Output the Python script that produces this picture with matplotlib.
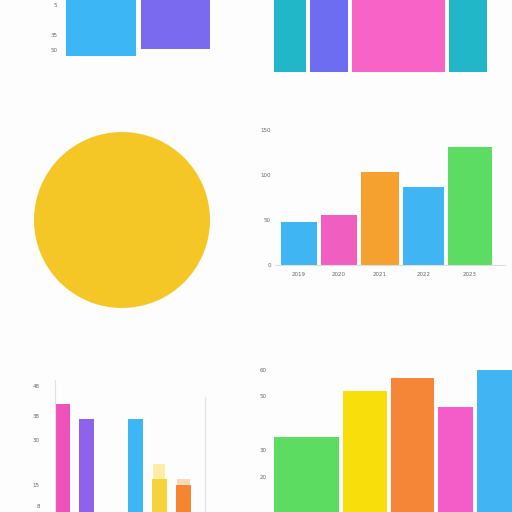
import matplotlib
matplotlib.use("Agg")
import matplotlib.pyplot as plt
import numpy as np

W = H = 512

# --- data -----------------------------------------------------------------
# top-left: two bars hanging from the top edge
A_vals = [56, 49]
A_colors = ["#3DB6F5", "#7A6AF0"]
A_ticks = [5, 35, 50]

# top-right: four full-height bars of different widths
B_vals = [100, 100, 100, 100]
B_colors = ["#22B6C9", "#6D6DF1", "#F763C6", "#22B6C9"]

# middle-left: single-slice pie
C_vals = [1]
C_colors = ["#F4C726"]

# middle-right: five bars
D_vals = [48, 56, 103, 87, 131]
D_colors = ["#3FB5F4", "#F05EC0", "#F4A130", "#3FB5F4", "#5CDC62"]
D_labels = ["2019", "2020", "2021", "2022", "2023"]
D_ticks = [0, 50, 100, 150]

# bottom-left: five bars, one empty slot, small light caps
E_pos = [0, 1, 3, 4, 5]
E_vals = [42, 37, 37, 17, 15]
E_caps = [0, 0, 0, 5, 2]
E_colors = ["#EE52BA", "#8C63EA", "#3DB6F3", "#F6D33C", "#F5862F"]
E_cap_colors = ["#FFFFFF", "#FFFFFF", "#FFFFFF", "#FCEDA6", "#FBD9B8"]
E_ticks = [8, 15, 30, 38, 48]

# bottom-right: five bars of different widths
F_vals = [35, 52, 57, 46, 60]
F_colors = ["#5CDC60", "#F8DF0C", "#F58637", "#F45DC8", "#41B5F3"]
F_ticks = [20, 30, 50, 60]

TICK_KW = dict(labelsize=4, colors="#666666", length=0)


def px_axes(fig, left, top, right, bottom):
    """add axes from a pixel box (origin top-left)"""
    return fig.add_axes([left / W, 1 - bottom / H, (right - left) / W, (bottom - top) / H])


def lefts_from_widths(widths, gap):
    return np.concatenate([[0], np.cumsum(np.array(widths[:-1]) + gap)])


def clean(ax):
    for s in ax.spines.values():
        s.set_visible(False)
    ax.set_facecolor("none")


fig = plt.figure(figsize=(W / 100, H / 100), dpi=100)
fig.patch.set_facecolor("#FDFDFD")

# top-left
ax = px_axes(fig, 60, 0, 215, 60)
clean(ax)
ax.bar([0, 1], A_vals, width=0.93, color=A_colors)
ax.set_ylim(60, 0)
ax.set_xlim(-0.55, 1.53)
ax.set_xticks([])
ax.set_yticks(A_ticks)
ax.tick_params(axis="y", pad=2, **TICK_KW)

# top-right
ax = px_axes(fig, 268, 0, 495, 72)
clean(ax)
B_w = [32, 38, 93, 38]
ax.bar(lefts_from_widths(B_w, 4), B_vals, width=B_w, align="edge", color=B_colors)
ax.set_xlim(-6, 221)
ax.set_ylim(0, 60)
ax.set_xticks([])
ax.set_yticks([])

# pie
ax = px_axes(fig, 34, 132, 210, 308)
ax.pie(C_vals, colors=C_colors, radius=1, startangle=90)
ax.set_xlim(-1, 1)
ax.set_ylim(-1, 1)

# middle-right
ax = px_axes(fig, 275, 120, 505, 265)
clean(ax)
D_w = [36, 36, 38, 41, 44]
D_left = lefts_from_widths(D_w, 4)
ax.bar(D_left, D_vals, width=D_w, align="edge", color=D_colors)
ax.spines["bottom"].set_visible(True)
ax.spines["bottom"].set_color("#DDDDDD")
ax.spines["bottom"].set_linewidth(0.8)
ax.set_xlim(-6, 224)
ax.set_ylim(0, 145 / 0.9)
ax.set_xticks(D_left + np.array(D_w) / 2)
ax.set_xticklabels(D_labels)
ax.set_yticks(D_ticks)
ax.tick_params(axis="x", pad=5, **TICK_KW)
ax.tick_params(axis="y", pad=3, **TICK_KW)

# bottom-left
ax = px_axes(fig, 55, 380, 205, 530)
clean(ax)
ax.bar(E_pos, E_vals, width=0.62, color=E_colors)
ax.bar(E_pos, E_caps, bottom=E_vals, width=0.5, color=E_cap_colors)
for side in ["left", "right"]:
    ax.spines[side].set_visible(True)
    ax.spines[side].set_color("#DDE3EA")
    ax.spines[side].set_linewidth(0.8)
ax.spines["right"].set_bounds(0, 44.3)
ax.set_xlim(-0.31, 5.89)
ax.set_ylim(0, 50)
ax.set_xticks([])
ax.set_yticks(E_ticks)
ax.tick_params(axis="y", pad=11, **TICK_KW)

# bottom-right
ax = px_axes(fig, 272, 362, 512, 530)
clean(ax)
F_w = [65, 44, 43, 35, 42]
ax.bar(lefts_from_widths(F_w, 4), F_vals, width=F_w, align="edge", color=F_colors)
ax.set_xlim(-2, 238)
ax.set_ylim(0, 168 / 2.67)
ax.set_xticks([])
ax.set_yticks(F_ticks)
ax.tick_params(axis="y", pad=4, **TICK_KW)

fig.savefig("out.png", dpi=100, facecolor=fig.get_facecolor())
